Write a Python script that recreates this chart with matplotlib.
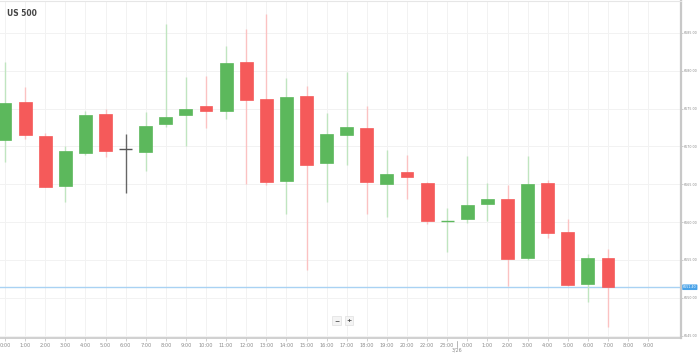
import numpy as np
import matplotlib
matplotlib.use("Agg")
import matplotlib.pyplot as plt

# hourly candles, US 500
hours = ["0:00", "1:00", "2:00", "3:00", "4:00", "5:00", "6:00", "7:00",
         "8:00", "9:00", "10:00", "11:00", "12:00", "13:00", "14:00",
         "15:00", "16:00", "17:00", "18:00", "19:00", "20:00", "22:00",
         "23:00", "0:00", "1:00", "2:00", "3:00", "4:00", "5:00", "6:00",
         "7:00", "8:00", "9:00"]
opens = [6670.8, 6675.9, 6671.4, 6664.8, 6669.1, 6674.3, 6669.6, 6669.3,
         6673.0, 6674.1, 6675.4, 6674.7, 6681.1, 6676.3, 6665.4, 6676.6,
         6667.8, 6671.5, 6672.4, 6665.0, 6666.6, 6665.2, 6660.2, 6660.4,
         6662.4, 6663.0, 6655.3, 6665.2, 6658.7, 6651.8, 6655.3]
highs = [6681.1, 6677.8, 6671.8, 6670.0, 6674.7, 6675.0, 6671.6, 6674.5,
         6686.2, 6679.2, 6679.3, 6683.2, 6685.5, 6687.5, 6679.0, 6678.0,
         6674.4, 6679.8, 6675.3, 6669.5, 6668.9, 6665.3, 6661.9, 6668.8,
         6665.2, 6664.9, 6668.8, 6665.5, 6660.4, 6655.8, 6656.4]
lows = [6667.9, 6671.0, 6664.6, 6662.7, 6668.9, 6668.6, 6663.9, 6666.7,
        6672.5, 6670.1, 6672.4, 6673.6, 6665.1, 6664.9, 6661.1, 6653.7,
        6662.6, 6667.5, 6661.1, 6660.7, 6663.1, 6659.7, 6656.1, 6659.9,
        6660.1, 6651.5, 6655.0, 6657.9, 6651.5, 6649.4, 6646.2]
closes = [6675.8, 6671.5, 6664.7, 6669.4, 6674.1, 6669.4, 6669.6, 6672.7,
          6673.9, 6674.9, 6674.7, 6681.0, 6676.1, 6665.3, 6676.5, 6667.5,
          6671.7, 6672.5, 6665.3, 6666.3, 6665.9, 6660.2, 6660.3, 6662.3,
          6663.0, 6655.1, 6665.0, 6658.5, 6651.7, 6655.3, 6651.4]
price_ticks = [6685, 6680, 6675, 6670, 6665, 6660, 6655, 6650, 6645]

green = "#5cb85c"
red = "#f55a5a"
wick_green = "#c0e5c0"
wick_red = "#fbc2c2"
grid_col = "#f2f2f2"
txt_col = "#8a8a8a"

fig = plt.figure(figsize=(6.99, 3.55), dpi=100)
ax = fig.add_axes([0.0, 0.048, 0.9742, 0.949])

x = np.arange(len(opens))
for i in x:
    o, h, l, c = opens[i], highs[i], lows[i], closes[i]
    if abs(c - o) < 0.05 and i == 6:
        col, wcol = "#555555", "#666666"
    elif c >= o:
        col, wcol = green, wick_green
    else:
        col, wcol = red, wick_red
    ax.vlines(i, l, h, color=wcol, lw=1.0, zorder=2)
    if abs(c - o) < 0.2:
        ax.hlines(o, i - 0.32, i + 0.32, color=col, lw=1.0, zorder=3)
    else:
        ax.bar(i, c - o, bottom=o, width=0.64, color=col,
               edgecolor=col, lw=0.5, zorder=3)

# current price line and tag
last = closes[-1]
ax.axhline(last, color="#a9d2f3", lw=1.0, zorder=1)
ax.text(1.003, last, f"{last:.2f}", transform=ax.get_yaxis_transform(),
        fontsize=2.3, color="white", va="center", ha="left",
        bbox=dict(boxstyle="round,pad=0.25", fc="#4aa3e8", ec="none"),
        clip_on=False)

ax.set_xlim(-0.25, 33.63)
ax.set_ylim(6644.7, 6689.2)
ax.set_xticks(np.arange(len(hours)))
ax.set_xticklabels(hours)
ax.set_yticks(price_ticks)
ax.set_yticklabels([f"{p:.2f}" for p in price_ticks])
ax.yaxis.tick_right()
ax.tick_params(axis="x", labelsize=3.6, colors=txt_col, length=2,
               width=0.5, pad=1.5, color="#bbbbbb")
ax.tick_params(axis="y", labelsize=2.3, colors=txt_col, length=1.2,
               width=0.5, pad=0.6, color="#bbbbbb")
ax.grid(True, color=grid_col, lw=0.7, zorder=0)
ax.set_axisbelow(True)

ax.spines["left"].set_visible(False)
ax.spines["top"].set_color("#e6e6e6")
ax.spines["top"].set_linewidth(0.8)
ax.spines["right"].set_color("#c8c8c8")
ax.spines["right"].set_linewidth(1.6)
ax.spines["bottom"].set_color("#c8c8c8")
ax.spines["bottom"].set_linewidth(1.2)

# day separator
ax.plot([22.5, 22.5], [-0.008, -0.026], transform=ax.get_xaxis_transform(),
        color="#999999", lw=0.5, clip_on=False)
ax.text(22.5, -0.028, "3/26", transform=ax.get_xaxis_transform(),
        fontsize=3.4, color=txt_col, ha="center", va="top")

ax.text(0.01, 0.975, "US 500", transform=ax.transAxes, fontsize=5.5,
        fontweight="bold", color="#444444", va="top", ha="left")

# zoom buttons
for xp, lab in [(16.5, "\u2212"), (17.1, "+")]:
    ax.text(xp, 0.052, lab, transform=ax.get_xaxis_transform(), fontsize=4.5,
            color="#444444", ha="center", va="center", fontweight="bold",
            bbox=dict(boxstyle="square,pad=0.25", fc="#f4f4f4", ec="#e0e0e0",
                      lw=0.5))

fig.savefig("out.png", dpi=100)
